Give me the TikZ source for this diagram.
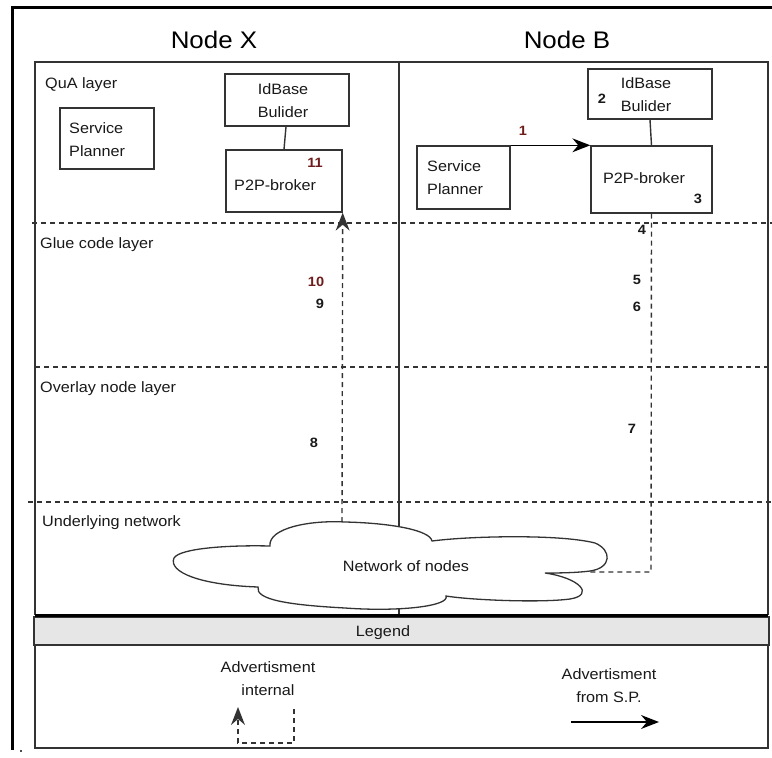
\documentclass[tikz,border=0pt]{standalone}
\usepackage{fontspec}
\setmainfont{Liberation Sans}[FakeStretch=1.08]
\usetikzlibrary{arrows.meta}
\definecolor{linegray}{HTML}{333333}
\definecolor{numred}{HTML}{6E1C1C}
\definecolor{legfill}{HTML}{E6E6E6}
\begin{document}
\begin{tikzpicture}[x=1pt,y=-1pt,
  lbl/.style={font=\fontsize{15}{23}\selectfont, text=black!90, inner sep=0pt},
  title/.style={font=\fontsize{24}{28}\selectfont, text=black, inner sep=0pt},
  num/.style={font=\bfseries\fontsize{13.5}{15}\selectfont, text=black!90, inner sep=0pt},
  numr/.style={num, text=numred},
  box/.style={draw=linegray, line width=1.4pt, fill=white, inner sep=0pt},
  thin/.style={draw=linegray, line width=1.4pt},
  dsh/.style={draw=linegray, line width=1.4pt, dash pattern=on 5pt off 4pt},
  arrhead/.style={arrows={-Stealth[length=18pt,width=14pt,inset=6pt,line width=0pt]}}
]
\useasboundingbox (0,0) rectangle (772,758);
% outer frame
\draw[black, line width=3pt] (12,750) -- (12,7) -- (772,7);
\node[inner sep=0pt, minimum size=2pt, fill=black!70] (dot) at (21,751) {};
% inner box and divider
\draw[thin] (35,615) -- (35,62) -- (768,62) -- (768,615);
\draw[thin] (399,62) -- (399,615);
% layer separators
\draw[dsh] (32,223) -- (772,223);
\draw[dsh] (35,367) -- (772,367);
\draw[dsh] (28,502) -- (772,502);
% titles
\node[title] (tx) at (214,40) {Node X};
\node[title] (tb) at (567,40) {Node B};
% layer labels
\node[lbl, anchor=west] (qua) at (45,85) {QuA layer};
\node[lbl, anchor=west] (glue) at (40,245) {Glue code layer};
\node[lbl, anchor=west] (ovl) at (40,389) {Overlay node layer};
\node[lbl, anchor=west] (und) at (42,523) {Underlying network};
% Node X boxes
\node[box, minimum width=94pt, minimum height=61pt] (spx) at (107,138.5) {};
\node[lbl, anchor=west, align=left] (spxt) at (69,139.5) {Service\\Planner};
\node[box, minimum width=124pt, minimum height=52pt] (ibx) at (287,100) {};
\node[lbl, align=center] (ibxt) at (283,100.5) {IdBase\\Bulider};
\node[box, minimum width=116pt, minimum height=62pt] (px) at (284,181) {};
\node[lbl, anchor=west] (pxt) at (234,185) {P2P-broker};
\node[numr] (n11) at (315,163) {11};
\draw[thin] (ibx.south) ++(-1,0) coordinate (ibxs) (ibxs) -- (px.north);
% Node B boxes
\node[box, minimum width=124pt, minimum height=50pt] (ibb) at (650,94) {};
\node[lbl, align=center] (ibbt) at (646,94.5) {IdBase\\Bulider};
\node[num] (n2) at (602,99) {2};
\node[box, minimum width=93pt, minimum height=63pt] (spb) at (463.5,177.5) {};
\node[lbl, anchor=west, align=left] (spbt) at (427,177.5) {Service\\Planner};
\node[box, minimum width=121pt, minimum height=67pt] (pb) at (651.5,179.5) {};
\node[lbl] (pbt) at (644,178) {P2P-broker};
\node[num] (n3) at (698,199) {3};
\draw[thin] (ibb.south) -- (pb.north);
% arrow 1
\draw[black, line width=1.4pt, arrhead] (spb.north east) -- (pb.north west);
\node[numr] (n1) at (523,131) {1};
% dashed flows
\coordinate (ctop) at (342,522);
\coordinate (cright) at (589,572);
\coordinate (bend) at (651,572);
\draw[dsh, arrhead] (ctop) -- (px.south east);
\draw[dsh] (pb.south) -- (bend) -- (cright);
% numbers
\node[num] (n4) at (642,230) {4};
\node[num] (n5) at (637,280) {5};
\node[num] (n6) at (637,307) {6};
\node[num] (n7) at (632,429) {7};
\node[num] (n8) at (314,443) {8};
\node[num] (n9) at (320,304) {9};
\node[numr] (n10) at (316,282) {10};
% cloud
\draw[linegray, line width=1.3pt, fill=white]
  (270,546) .. controls (268,528) and (310,520) .. (345,522)
  .. controls (390,523) and (430,530) .. (432,541)
  .. controls (470,536) and (560,534) .. (595,543)
  .. controls (612,550) and (612,568) .. (590,571)
  .. controls (575,573) and (555,573) .. (545,573)
  .. controls (580,578) and (595,595) .. (570,599)
  .. controls (540,603) and (470,600) .. (446,596)
  .. controls (450,606) and (400,612) .. (345,608)
  .. controls (290,605) and (255,600) .. (258,587)
  .. controls (200,585) and (168,572) .. (174,558)
  .. controls (180,548) and (230,545) .. (270,546) -- cycle;
\node[lbl] (net) at (406,566) {Network of nodes};
% legend
\node[draw=linegray, line width=1.3pt, fill=legfill, minimum width=735pt, minimum height=28pt, inner sep=0pt] (legbar) at (401.5,631) {};
\node[lbl] (legt) at (383,633) {Legend};
\draw[black, line width=3pt] (35,615) -- (768,615);
\node[draw=linegray, line width=1.3pt, minimum width=733pt, minimum height=103pt, inner sep=0pt] (legbox) at (401.5,696.5) {};
\node[lbl, align=center] (ai) at (268,679) {Advertisment\\internal};
\coordinate (la) at (294,709);
\coordinate (lb) at (294,743);
\coordinate (lc) at (238,743);
\coordinate (ld) at (238,707);
\draw[dsh, arrhead] (la) -- (lb) -- (lc) -- (ld);
\node[lbl, align=center] (asp) at (609,685.5) {Advertisment\\from S.P.};
\coordinate (sa) at (571,722);
\coordinate (sb) at (659,722);
\draw[black, line width=1.4pt, arrhead] (sa) -- (sb);
\end{tikzpicture}
\end{document}
